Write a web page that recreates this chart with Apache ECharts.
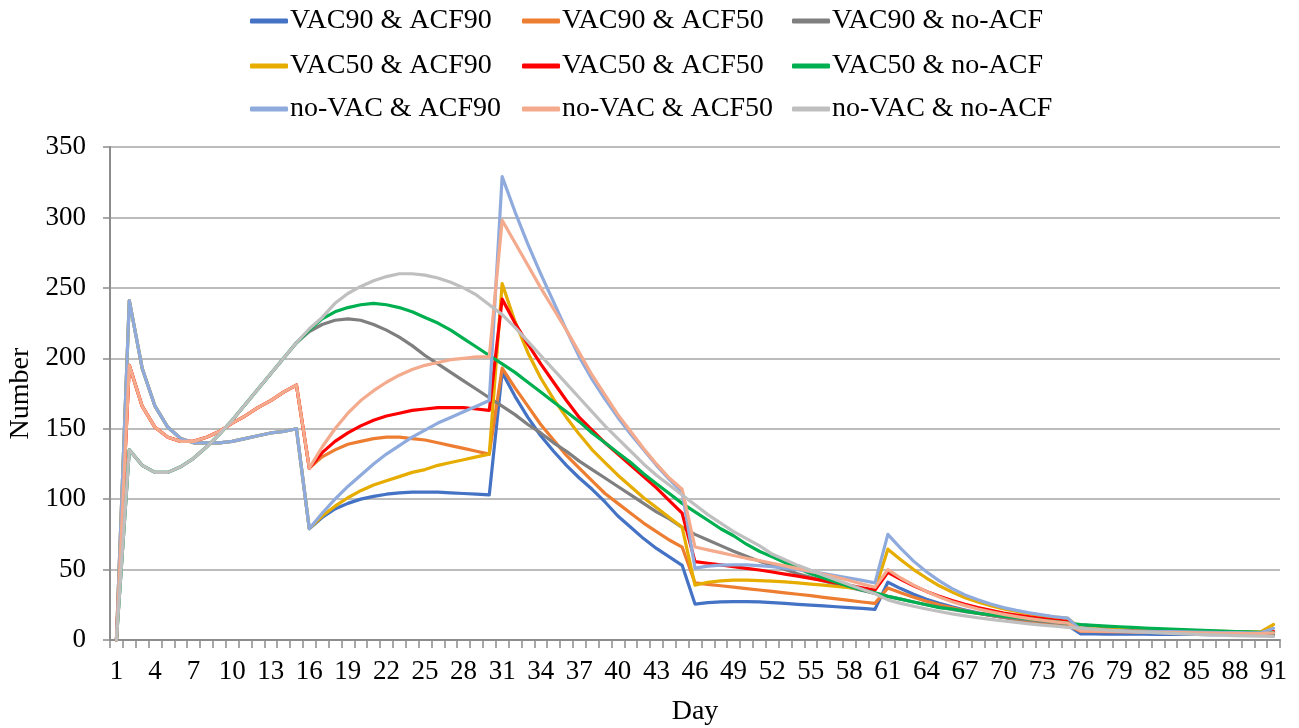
<!DOCTYPE html>
<html><head><meta charset="utf-8">
<script src="https://cdn.jsdelivr.net/npm/echarts@6/dist/echarts.min.js"></script>
<style>html,body{margin:0;padding:0;background:#fff}#c{width:1299px;height:728px}</style>
</head><body><div id="c"></div>
<script>
const days = Array.from({length: 91}, (_, i) => String(i + 1));
const seriesNames = ['VAC90 & ACF90','VAC90 & ACF50','VAC90 & no-ACF','VAC50 & ACF90','VAC50 & ACF50','VAC50 & no-ACF','no-VAC & ACF90','no-VAC & ACF50','no-VAC & no-ACF'];
const yTicks = [0, 50, 100, 150, 200, 250, 300, 350];

const vac90Acf90 = [0,241,193,166,151,143,140,140,140,141,143,145,147,148,150,
 79,87,93,97,100,102,103.5,104.5,105,105,105,104.5,104,103.5,103,
 190,173,158,145,134,124,115,107,98,88,80,72,65,59,53,
 25.5,26.5,27,27.2,27.2,27,26.5,26,25.3,24.8,24.2,23.6,23,22.4,21.8,
 41,36.5,32.5,29,26,23.5,21.3,19.3,17.6,16,14.6,13.4,12.3,11.3,10.4,
 4.3,4.3,4.2,4.2,4.1,4.1,4.0,4.0,3.9,3.9,3.8,3.8,3.7,3.7,3.6,5.2];
const vac90Acf50 = [0,195,166,151,144,141,141,144,148,154,159,165,170,176,181,
 122,130,135,139,141,143,144,144,143,142,140,138,136,134,132,
 193,179,166,153,142,131,122,113,104,97,90,83,77,71,66,
 40.5,39.5,38.5,37.5,36.5,35.5,34.5,33.5,32.5,31.5,30.3,29.2,28.1,27,26,
 37,33.5,30.3,27.5,25,22.8,20.8,19,17.4,16,14.7,13.5,12.4,11.4,10.5,
 6.2,6.1,6.0,5.9,5.8,5.6,5.5,5.4,5.3,5.2,5.1,5.0,4.9,4.8,4.7,5.5];
const vac90NoAcf = [0,135,124,119,119,123,129,137,146,156,167,178,189,200,211,
 219,224,227,228,227,224,220,215,209,202,196,190,184,178,172,
 166,160,153,147,140,134,127,121,115,109,103,97,91,86,80,
 75,71,67,63,59.5,56,53,50,47,44.5,42,39.5,37.3,35.2,33,
 31,29,27,25,23.3,21.7,20.2,18.8,17.5,16.3,15.2,14.2,13.2,12.3,11.5,
 10.7,10,9.3,8.7,8.1,7.6,7.1,6.6,6.2,5.8,5.4,5.0,4.7,4.4,4.1,3.8];
const vac50Acf90 = [0,241,193,166,151,143,140,140,140,141,143,145,147,148,150,
 79,88,95,101,106,110,113,116,119,121,124,126,128,130,132,
 253,226,204,186,171,158,146,135,126,117,109,101,94,87,80,
 39,41,42,42.5,42.5,42.2,41.8,41.2,40.5,39.7,38.9,38,37.2,36.3,35.4,
 64.5,57,50,44,38.5,34,30,27,24.3,22,20.2,18.7,17.3,16.2,15.3,
 8.2,8.0,7.8,7.6,7.4,7.2,7.0,6.8,6.6,6.5,6.3,6.2,6.0,5.9,5.8,11];
const vac50Acf50 = [0,195,166,151,144,141,141,144,148,154,159,165,170,176,181,
 122,133,141,147,152,156,159,161,163,164,165,165,165,164,163,
 242,225,210,196,183,170,158,149,140,132,124,116,108,99,90,
 55.6,54.5,53.3,52.1,50.9,49.7,48.3,46.8,45.3,43.8,42.2,40.5,38.8,37.1,35.4,
 48,43,38.5,34.5,31,28,25.3,23,21,19.2,17.7,16.4,15.2,14.2,13.3,
 7.2,7.0,6.8,6.6,6.4,6.2,6.0,5.8,5.6,5.5,5.3,5.2,5.0,4.9,4.8,6];
const vac50NoAcf = [0,135,124,119,119,123,129,137,146,156,167,178,189,200,211,
 220,228,233,236,238,239,238,236,233,229,225,220,214,208,202,
 196,190,183,176,169,162,155,147,140,133,126,118,111,104,97,
 91,85,79,74,68,63,59,55,51,47,44,41,38,35.5,33.5,
 31,29,27,25,23,22,20.5,19,18,17,16,15,14,13,12,
 11,10.4,9.9,9.4,8.9,8.5,8.1,7.7,7.3,7.0,6.6,6.3,6.0,5.7,5.5,5.2];
const noVacAcf90 = [0,241,193,166,151,143,140,140,140,141,143,145,147,148,150,
 79,90,100,109,117,125,132,138,144,149,154,158,162,166,170,
 329,304,281,260,240,220,201,185,171,158,146,135,124,114,105,
 51,52.5,53.2,53.4,53.3,52.8,52,51,49.9,48.6,47.2,45.6,44,42.3,40.6,
 75,65,56,48.5,42,36.5,32,28.5,25.5,23,21,19.3,17.8,16.5,15.5,
 7.2,7.0,6.8,6.6,6.4,6.2,6.0,5.9,5.7,5.6,5.4,5.3,5.2,5.1,5.0,8.3];
const noVacAcf50 = [0,195,166,151,144,141,141,144,148,154,159,165,170,176,181,
 122,137,150,161,170,177,183,188,192,195,197,199,200,201,201,
 298,282,266,250,235,220,204,188,174,160,148,136,125,115,107,
 66,64,62,60,58,56.3,54.5,52.6,50.7,48.8,46.7,44.6,42.2,39.8,37.4,
 50,44,39,34.5,30.5,27.2,24.4,22,20,18.2,16.6,15.2,14,12.9,12,
 6.5,6.3,6.1,6.0,5.8,5.6,5.5,5.3,5.2,5.0,4.9,4.8,4.7,4.6,4.5,5];
const noVacNoAcf = [0,135,124,119,119,123,129,137,146,156,167,178,189,200,211,
 221,229,239,246,251,255,258,260,260,259,257,254,250,245,238,
 231,222,212,202,192,182,172,162,152,143,134,125,117,110,103,
 96,89,83,77,72,67,61,57,53,49.5,46,42.6,39.3,36,32.8,
 28.5,26,24,22,20.2,18.6,17.1,15.8,14.6,13.5,12.5,11.5,10.6,9.8,9.0,
 8.3,7.7,7.1,6.5,6.0,5.5,5.1,4.7,4.3,4.0,3.7,3.4,3.1,2.9,2.7,2.5];

const allValues = [vac90Acf90, vac90Acf50, vac90NoAcf, vac50Acf90, vac50Acf50, vac50NoAcf, noVacAcf90, noVacAcf50, noVacNoAcf];
const colors = ['#4472C4','#ED7D31','#7F7F7F','#E6AC00','#FF0000','#00B050','#8FAADC','#F4AA8C','#BFBFBF'];

const FONT = '"Liberation Serif", "Times New Roman", serif';
const chart = echarts.init(document.getElementById('c'), null, {renderer: 'canvas'});

const legendLefts = [245, 517, 787];
const legendTops = [2, 47, 90];
const legends = seriesNames.map((n, i) => ({
  top: legendTops[Math.floor(i / 3)], left: legendLefts[i % 3],
  itemWidth: 38, itemHeight: 5, icon: 'roundRect', itemGap: 0,
  data: [n],
  textStyle: {fontFamily: FONT, fontSize: 28, color: '#000', padding: [0, 0, 0, -3]}
}));

chart.setOption({
  animation: false,
  color: colors,
  legend: legends,
  grid: {left: 110, right: 19, top: 147, bottom: 88, outerBoundsMode: 'none', containLabel: false},
  xAxis: {
    type: 'category', data: days, boundaryGap: true,
    name: 'Day', nameLocation: 'middle', nameGap: 58,
    nameTextStyle: {fontFamily: FONT, fontSize: 28, color: '#000'},
    axisLine: {lineStyle: {color: '#8C8C8C', width: 2}},
    axisTick: {show: true, interval: 0, length: 8, lineStyle: {color: '#8C8C8C', width: 1.5}},
    axisLabel: {interval: 2, fontFamily: FONT, fontSize: 27, color: '#000', margin: 18}
  },
  yAxis: {
    type: 'value', min: yTicks[0], max: yTicks[yTicks.length-1], interval: 50,
    name: 'Number', nameLocation: 'middle', nameGap: 74, nameRotate: 90,
    nameTextStyle: {fontFamily: FONT, fontSize: 28, color: '#000'},
    axisLine: {show: true, lineStyle: {color: '#8C8C8C', width: 2}},
    axisTick: {show: true, length: 7, lineStyle: {color: '#8C8C8C', width: 1.5}},
    axisLabel: {fontFamily: FONT, fontSize: 27, color: '#000', margin: 24},
    splitLine: {lineStyle: {color: '#A6A6A6', width: 1.5}}
  },
  series: seriesNames.map((n, i) => ({
    name: n, type: 'line', data: allValues[i], symbol: 'none', smooth: false,
    lineStyle: {width: 3.2, color: colors[i], cap: 'round', join: 'round'},
    itemStyle: {color: colors[i]}
  }))
});
</script></body></html>
